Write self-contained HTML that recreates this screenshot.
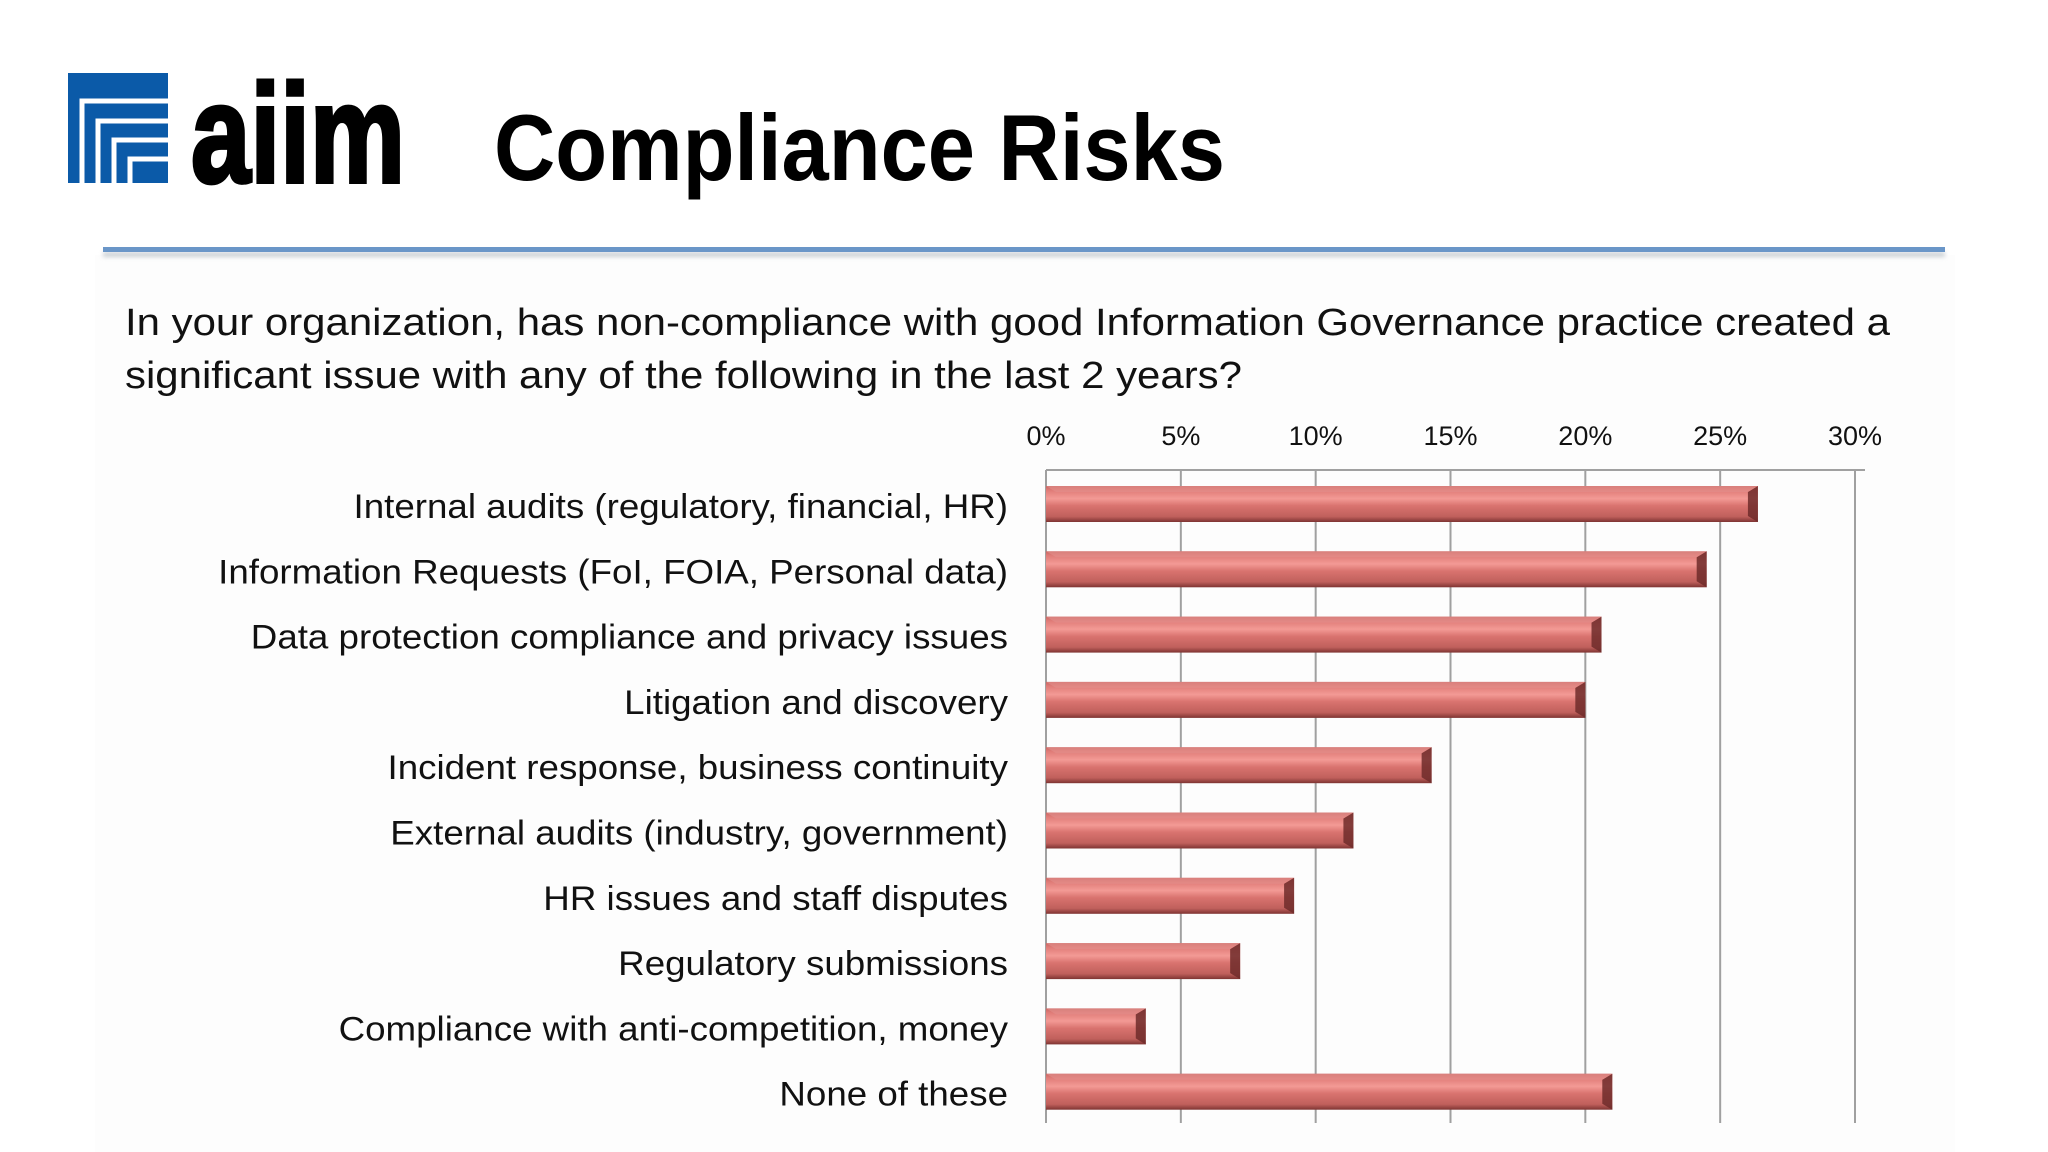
<!DOCTYPE html>
<html><head><meta charset="utf-8"><style>
html,body{margin:0;padding:0;background:#fff;}
svg{display:block;font-family:"Liberation Sans",sans-serif;}
</style></head><body>
<svg id="chart" width="2048" height="1152" viewBox="0 0 2048 1152">
<defs>
<linearGradient id="barGrad" x1="0" y1="0" x2="0" y2="1">
<stop offset="0" stop-color="#c86864"/>
<stop offset="0.12" stop-color="#e07c78"/>
<stop offset="0.35" stop-color="#f39a95"/>
<stop offset="0.55" stop-color="#d9736f"/>
<stop offset="0.85" stop-color="#c0605c"/>
<stop offset="1" stop-color="#7e3432"/>
</linearGradient>
<filter id="sh" x="-5%" y="-50%" width="110%" height="300%"><feGaussianBlur stdDeviation="2"/></filter>
</defs>
<rect x="95" y="255" width="1860" height="897" fill="#fdfdfd"/>
<g>
<rect x="68" y="73" width="100" height="110" fill="#0b5aa8"/>
<path d="M82 183 V101 H168 M98 183 V121 H168 M114 183 V140 H168 M130 183 V159 H168" stroke="#fff" stroke-width="5" fill="none"/>
<text x="191" y="182" font-size="140" font-weight="bold" textLength="214" lengthAdjust="spacingAndGlyphs" fill="#000" stroke="#000" stroke-width="4">aiim</text>
</g>
<text x="494" y="180" font-size="94" font-weight="bold" textLength="731" lengthAdjust="spacingAndGlyphs" fill="#000">Compliance Risks</text>
<rect x="103" y="252" width="1842" height="5" fill="#9aa4ae" opacity="0.5" filter="url(#sh)"/>
<rect x="103" y="247" width="1842" height="5" fill="#6a96c8"/>
<text x="125" y="335" font-size="38" textLength="1765" lengthAdjust="spacingAndGlyphs" fill="#111">In your organization, has non-compliance with good Information Governance practice created a</text>
<text x="125" y="388" font-size="38" textLength="1117" lengthAdjust="spacingAndGlyphs" fill="#111">significant issue with any of the following in the last 2 years?</text>
<g id="grid"></g><g id="bars"></g><g id="labels"></g>
</svg>
<script>
const categories=["Internal audits (regulatory, financial, HR)","Information Requests (FoI, FOIA, Personal data)","Data protection compliance and privacy issues","Litigation and discovery","Incident response, business continuity","External audits (industry, government)","HR issues and staff disputes","Regulatory submissions","Compliance with anti-competition, money","None of these"];
const values=[26.4,24.5,20.6,20.0,14.3,11.4,9.2,7.2,3.7,21.0];
const ticks=[0,5,10,15,20,25,30];
const tickLabels=["0%","5%","10%","15%","20%","25%","30%"];
const NS="http://www.w3.org/2000/svg";
const x0=1046,x1=1855,xmax=30,axisY=470,gridBottom=1123,barTop0=486,pitch=65.3,barH=36;
function xs(v){return x0+(v/xmax)*(x1-x0);}
function yb(i){return barTop0+i*pitch;}
function mk(t,a){const e=document.createElementNS(NS,t);for(const k in a)e.setAttribute(k,a[k]);return e;}
const grid=document.getElementById('grid'),bars=document.getElementById('bars'),labels=document.getElementById('labels');
const ax=mk('line',{x1:x0,x2:x1+10,y1:axisY,y2:axisY,stroke:'#a0a0a0','stroke-width':2});


grid.appendChild(ax);
ticks.forEach((t,i)=>{
 const l=mk('line',{x1:xs(t),x2:xs(t),y1:axisY,y2:gridBottom,stroke:'#a0a0a0','stroke-width':2});
 
 
 grid.appendChild(l);
 const tx=mk('text',{x:xs(t),y:445,'font-size':27,'text-anchor':'middle',fill:'#111'});
 tx.textContent=tickLabels[i];
 
 
 grid.appendChild(tx);
});
values.forEach((v,i)=>{
 const y=yb(i),w=xs(v)-x0,g=mk('g',{});
 
 
 g.appendChild(mk('rect',{x:x0,y:y,width:w,height:barH,fill:'url(#barGrad)'}));
 g.appendChild(mk('polygon',{points:`${x0+w-10},${y+6} ${x0+w},${y} ${x0+w},${y+barH} ${x0+w-10},${y+barH-6}`,fill:'#6e2c2a',opacity:0.85}));
 g.appendChild(mk('polygon',{points:`${x0},${y} ${x0+w},${y} ${x0+w-10},${y+6} ${x0+10},${y+6}`,fill:'#e2908c',opacity:0.6}));
 bars.appendChild(g);
 const t=mk('text',{x:1008,y:y+barH/2+14,'font-size':34,'text-anchor':'end',fill:'#111'});
 t.textContent=categories[i];
 
 
 labels.appendChild(t);
 const L=t.getComputedTextLength();
 if(L>0){t.setAttribute('textLength',(L*1.08).toFixed(1));t.setAttribute('lengthAdjust','spacingAndGlyphs');}
});
</script>
</body></html>
